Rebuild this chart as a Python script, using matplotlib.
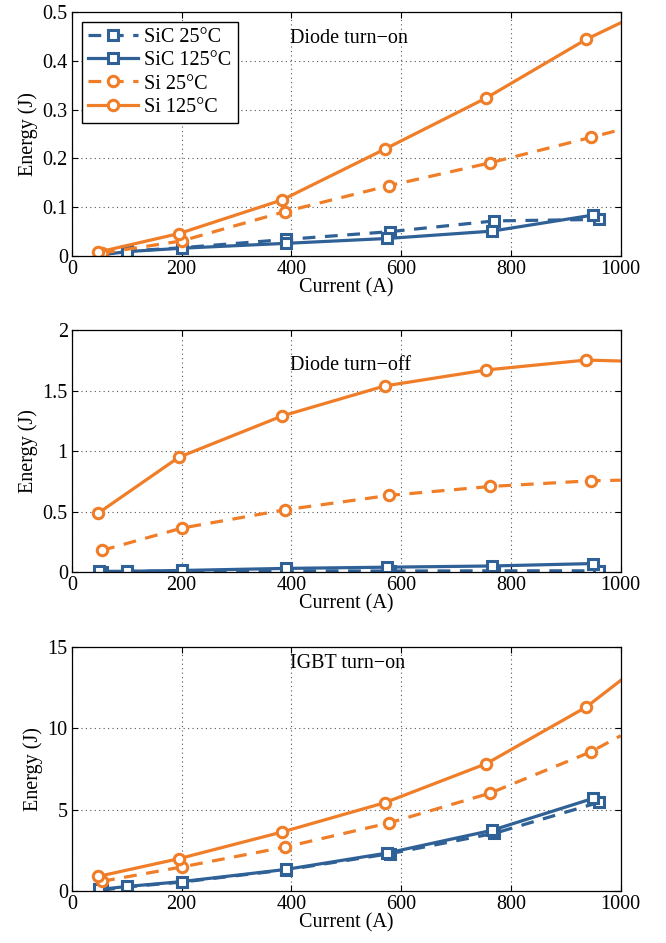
import numpy as np
import matplotlib.pyplot as plt

plt.rcParams['font.family'] = ['Liberation Serif', 'DejaVu Serif']
plt.rcParams['mathtext.fontset'] = 'stix'

BLUE = '#2f6197'
ORANGE = '#f07d27'

# x positions of measurements (A); orange lines run on to x=1000 without a marker
sic25_x = [55, 100, 200, 390, 580, 770, 960]
sic125_x = [50, 100, 200, 390, 575, 765, 950]
si25_x = [55, 200, 388, 577, 762, 945, 1000]
si125_x = [48, 195, 383, 570, 755, 937, 1000]

# Diode turn-on (J)
on_sic25 = [0.003, 0.010, 0.017, 0.034, 0.050, 0.072, 0.075]
on_sic125 = [0.002, 0.009, 0.016, 0.026, 0.036, 0.051, 0.084]
on_si25 = [0.006, 0.031, 0.091, 0.144, 0.191, 0.243, 0.259]
on_si125 = [0.008, 0.046, 0.115, 0.219, 0.324, 0.444, 0.478]

# Diode turn-off (J)
off_sic25 = [0.003, 0.005, 0.008, 0.010, 0.008, 0.010, 0.010]
off_sic125 = [0.005, 0.006, 0.013, 0.030, 0.040, 0.050, 0.070]
off_si25 = [0.179, 0.363, 0.514, 0.633, 0.707, 0.754, 0.759]
off_si125 = [0.487, 0.949, 1.29, 1.538, 1.67, 1.752, 1.744]

# IGBT turn-on (J)
igbt_sic25 = [0.05, 0.25, 0.55, 1.30, 2.30, 3.55, 5.45]
igbt_sic125 = [0.10, 0.28, 0.58, 1.33, 2.34, 3.73, 5.70]
igbt_si25 = [0.60, 1.48, 2.70, 4.18, 6.02, 8.55, 9.55]
igbt_si125 = [0.90, 1.99, 3.63, 5.43, 7.83, 11.31, 12.95]

panels = [
    ('Diode turn\u2212on', [on_sic25, on_sic125, on_si25, on_si125], 0.5, 0.1),
    ('Diode turn\u2212off', [off_sic25, off_sic125, off_si25, off_si125], 2, 0.5),
    ('IGBT turn\u2212on', [igbt_sic25, igbt_sic125, igbt_si25, igbt_si125], 15, 5),
]
title_pos = [(0.397, 0.893), (0.397, 0.855), (0.397, 0.934)]
bottoms = [0.7285, 0.3934, 0.0551]
heights = [0.2587, 0.2566, 0.2587]

fig = plt.figure(figsize=(6.66, 9.43), dpi=100)

for i, (title, ys, ymax, ystep) in enumerate(panels):
    ax = fig.add_axes([0.108, bottoms[i], 0.824, heights[i]])
    sic25, sic125, si25, si125 = ys
    ax.plot(sic25_x, sic25, '--s', color=BLUE, lw=2.3, ms=7, mew=2.2,
            mfc='white', dashes=(4, 3), label='SiC 25\u00b0C')
    ax.plot(sic125_x, sic125, '-s', color=BLUE, lw=2.3, ms=7, mew=2.2,
            mfc='white', label='SiC 125\u00b0C')
    ax.plot(si25_x, si25, '--o', color=ORANGE, lw=2.3, ms=7.5, mew=2.2,
            mfc='white', dashes=(4, 3), markevery=slice(0, 6), label='Si 25\u00b0C')
    ax.plot(si125_x, si125, '-o', color=ORANGE, lw=2.3, ms=7.5, mew=2.2,
            mfc='white', markevery=slice(0, 6), label='Si 125\u00b0C')

    ax.set_xlim(0, 1000)
    ax.set_ylim(0, ymax)
    ax.set_xticks(np.arange(0, 1001, 200))
    ax.set_yticks(np.arange(0, ymax + 1e-9, ystep))
    ax.yaxis.set_major_formatter(plt.FuncFormatter(lambda v, p: f'{v:g}'))
    ax.grid(True, linestyle=(0, (1, 3)), color='#555555', linewidth=0.8)
    ax.tick_params(direction='in', labelsize=14.5, top=True, right=True,
                   length=4, pad=3)
    for s in ax.spines.values():
        s.set_linewidth(0.9)
    ax.set_xlabel('Current (A)', fontsize=14.5, labelpad=-1)
    ax.set_ylabel('Energy (J)', fontsize=14.5, labelpad=3)
    ax.text(title_pos[i][0], title_pos[i][1], title, transform=ax.transAxes,
            fontsize=14.5, ha='left', va='center')
    if i == 0:
        leg = ax.legend(loc='upper left', fontsize=14.5, handlelength=2.5,
                        fancybox=False, framealpha=1, edgecolor='black',
                        borderaxespad=0.5, labelspacing=0.2,
                        handletextpad=0.3, borderpad=0.3)
        leg.get_frame().set_linewidth(1.0)

fig.savefig('out.png', dpi=100)
